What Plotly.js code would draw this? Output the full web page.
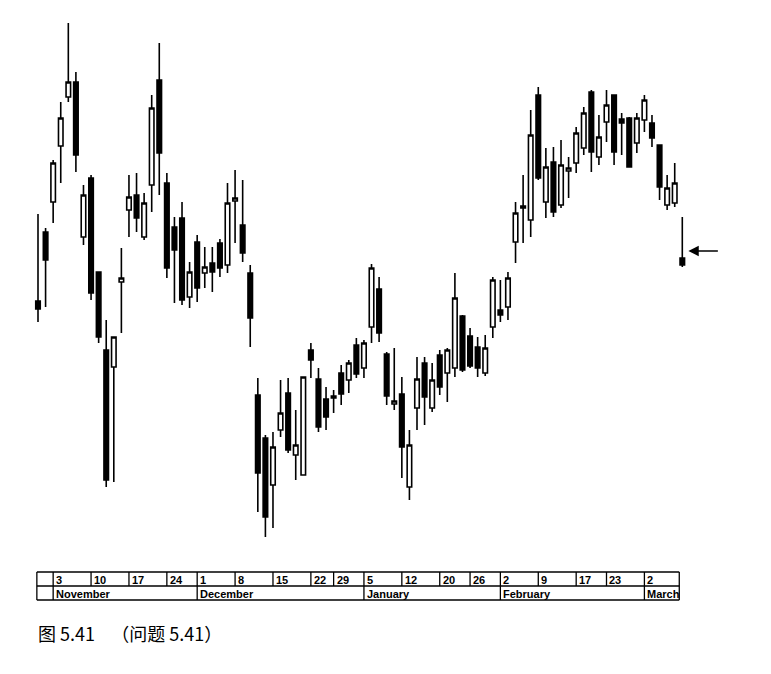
<!DOCTYPE html>
<html><head><meta charset="utf-8">
<script src="https://cdn.plot.ly/plotly-3.0.1.min.js"></script>
<style>html,body{margin:0;padding:0;background:#fff;}#chart{width:771px;height:674px;}</style>
</head><body><div id="chart"></div>
<script>
// Daily prices (price units arbitrary)
const opens  = [29.9,36.8,39.8,45.4,50.3,51.8,36.3,42.2,32.8,25.0,23.3,31.8,39.0,40.5,36.3,41.5,52.0,41.7,37.3,38.2,
                30.3,35.8,32.7,33.7,35.7,33.5,39.9,37.5,32.7,20.5,16.2,11.5,17.0,20.7,14.5,12.5,25.0,22.1,20.1,20.2,
                22.7,22.0,25.5,23.2,27.3,31.1,24.6,19.6,20.6,11.3,19.2,23.7,19.2,24.5,22.7,23.2,28.4,26.4,25.3,22.7,
                27.3,29.0,29.3,35.8,39.2,38.0,50.5,39.8,43.8,39.5,42.9,43.7,45.2,50.8,44.3,47.8,50.5,48.1,48.2,45.7,
                48.0,47.7,45.5,39.5,39.7,34.2];
const highs  = [38.6,37.2,44.0,49.8,57.7,52.8,41.5,42.5,32.8,28.0,26.3,35.2,42.5,42.7,40.7,50.5,55.7,42.7,38.3,39.8,
                33.8,36.5,35.3,35.3,36.1,41.7,43.0,42.0,33.5,22.2,16.5,16.8,22.0,22.2,19.0,22.3,25.7,23.2,21.3,21.0,
                23.5,24.0,26.2,26.0,33.6,32.3,24.8,25.2,22.3,17.0,24.3,24.3,23.7,25.0,25.2,32.7,28.5,27.2,26.3,26.5,
                32.3,32.0,32.8,39.8,42.5,49.0,51.3,45.2,45.3,46.0,44.3,47.3,49.3,51.0,48.5,51.0,50.5,48.7,48.3,48.7,
                50.5,48.5,45.5,42.5,43.7,38.3];
const lows   = [27.8,29.3,37.7,41.7,49.8,42.8,35.5,30.0,25.7,11.3,11.8,26.7,36.3,36.8,36.0,38.8,40.5,32.2,29.7,29.5,
                29.2,29.8,31.2,30.8,32.3,32.7,35.7,33.8,25.3,8.8,6.3,7.2,16.3,14.7,12.0,12.5,22.2,16.8,17.0,18.7,
                19.5,20.7,22.2,22.2,25.7,25.8,19.5,19.0,12.2,10.0,17.0,17.5,18.8,20.5,19.8,22.3,22.8,23.2,22.3,22.4,
                26.2,27.8,28.0,33.7,35.7,36.3,42.0,38.2,38.3,39.2,40.2,42.7,44.5,42.8,43.5,45.8,43.5,44.5,43.3,44.7,
                46.8,45.3,40.0,39.0,39.3,33.3];
const closes = [29.1,34.0,43.7,48.2,51.8,44.5,40.5,30.7,26.3,12.0,26.3,32.2,40.3,38.2,39.7,49.2,44.7,33.2,35.0,30.0,
                32.8,31.2,33.3,32.8,33.2,39.7,40.2,34.7,28.2,12.7,8.3,15.3,18.7,15.0,15.5,22.3,24.0,17.3,18.3,20.4,
                20.6,23.7,22.6,25.7,33.2,26.7,20.4,19.9,15.3,15.5,22.1,20.3,22.0,21.3,25.0,30.2,23.0,23.4,23.2,25.2,
                32.0,28.5,32.2,38.7,39.4,46.5,42.2,43.3,38.8,43.5,43.2,46.7,48.7,44.8,46.3,49.5,44.8,47.7,43.3,48.2,
                50.0,46.2,41.3,41.2,41.7,33.5];

// Date table: first trading day (index) of each week / month
const weekLabels  = ['3','10','17','24','1','8','15','22','29','5','12','20','26','2','9','17','23','2'];
const weekStart   = [2,7,12,17,21,26,31,36,39,43,48,53,57,61,66,71,75,80];
const monthLabels = ['November','December','January','February','March'];
const monthStart  = [2,21,43,61,80];
const caption = '图 5.41\u00a0\u00a0\u00a0 （问题 5.41）';

const x = opens.map((_, i) => i);
const lastIdx = x.length - 1;

// layout geometry helpers (pixel -> paper)
const T = 15, B = 545, L = 30, R = 690;
const py = px => (B - px) / (B - T);
const tableLeft = -0.15, tableRight = 84.6;
const rowTop = py(572), rowMid = py(586), rowBot = py(600);
const lineStyle = {color: '#000', width: 1.3};

const shapes = [];
[rowTop, rowMid, rowBot].forEach(yv => shapes.push({type:'line', xref:'x', yref:'paper', x0:tableLeft, x1:tableRight, y0:yv, y1:yv, line:lineStyle}));
[tableLeft, tableRight].forEach(xv => shapes.push({type:'line', xref:'x', yref:'paper', x0:xv, x1:xv, y0:rowTop, y1:rowBot, line:lineStyle}));
weekStart.forEach(xv => shapes.push({type:'line', xref:'x', yref:'paper', x0:xv, x1:xv, y0:rowTop, y1:rowMid, line:lineStyle}));
monthStart.forEach(xv => shapes.push({type:'line', xref:'x', yref:'paper', x0:xv, x1:xv, y0:rowMid, y1:rowBot, line:lineStyle}));

const labFont = {family: 'Liberation Sans, Arial, sans-serif', size: 11, color: '#000'};
const annotations = [];
weekLabels.forEach((t, k) => annotations.push({xref:'x', yref:'paper', x:weekStart[k] + 0.12, y:py(579.5), text:'<b>' + t + '</b>', showarrow:false, xanchor:'left', yanchor:'middle', font:labFont}));
monthLabels.forEach((t, k) => annotations.push({xref:'x', yref:'paper', x:monthStart[k] + 0.12, y:py(593.5), text:'<b>' + t + '</b>', showarrow:false, xanchor:'left', yanchor:'middle', font:labFont}));
annotations.push({xref:'paper', yref:'paper', x:(36 - L) / (R - L), y:py(633), text:caption, showarrow:false, xanchor:'left', yanchor:'middle',
  font:{family:'Noto Sans CJK SC, Noto Sans, sans-serif', size:18, color:'#000'}});
// arrow pointing at the last day
annotations.push({xref:'x', yref:'y', x:lastIdx + 0.8, y:34.9, ax:31, ay:0, text:'', showarrow:true, arrowhead:2, arrowsize:1.3, arrowwidth:1.6, arrowcolor:'#000', standoff:0});

const trace = {
  type:'candlestick', x:x, open:opens, high:highs, low:lows, close:closes,
  increasing:{line:{color:'#000', width:1.6}, fillcolor:'#fff'},
  decreasing:{line:{color:'#000', width:1.6}, fillcolor:'#000'},
  whiskerwidth:0, hoverinfo:'skip', showlegend:false
};

const pxPerDay = 7.58;
const layout = {
  width:771, height:674,
  margin:{l:L, r:771 - R, t:T, b:674 - B, pad:0},
  paper_bgcolor:'#fff', plot_bgcolor:'#fff',
  showlegend:false,
  boxgap:0.15,
  xaxis:{range:[-8 / pxPerDay, (R - 38) / pxPerDay], showgrid:false, zeroline:false, showticklabels:false, showline:false, ticks:'', rangeslider:{visible:false}, fixedrange:true},
  yaxis:{range:[5.5, 58.5], showgrid:false, zeroline:false, showticklabels:false, showline:false, ticks:'', fixedrange:true},
  shapes:shapes, annotations:annotations
};

Plotly.newPlot('chart', [trace], layout, {displayModeBar:false, staticPlot:true});
</script>
</body></html>
